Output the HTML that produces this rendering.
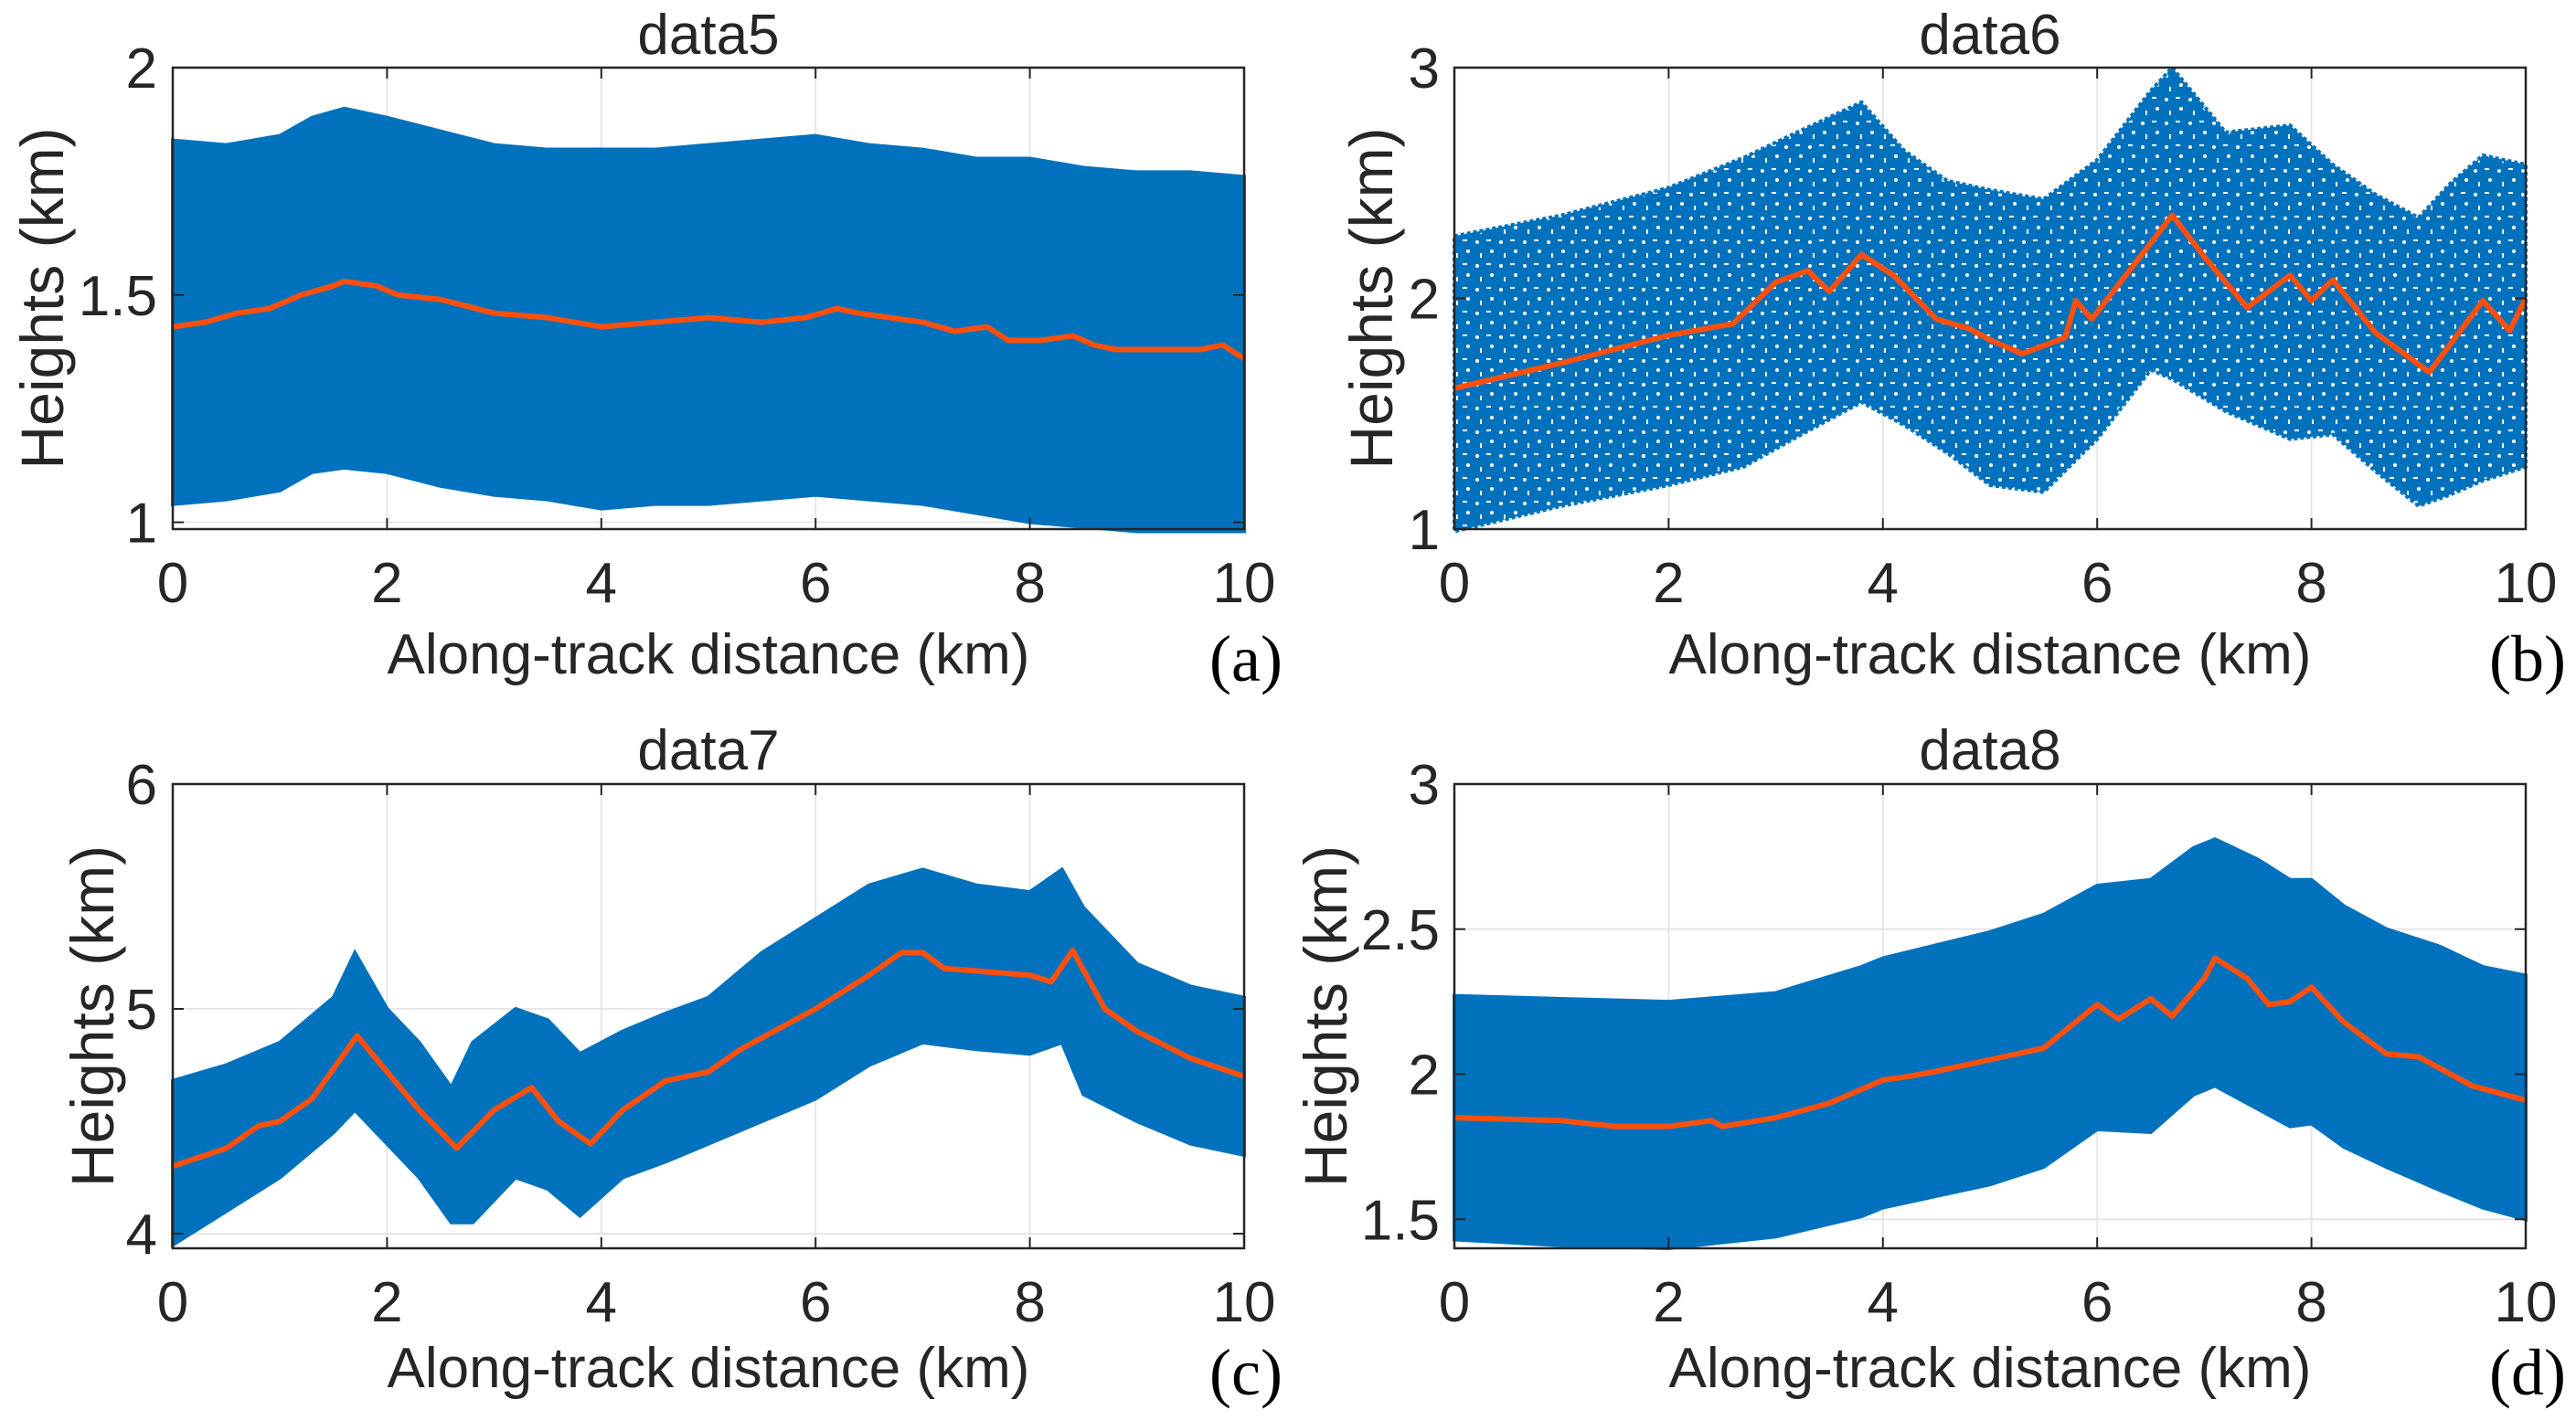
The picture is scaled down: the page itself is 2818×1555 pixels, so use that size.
<!DOCTYPE html>
<html><head><meta charset="utf-8">
<style>
html,body{margin:0;padding:0;background:#fff;}
svg{display:block;}
text{font-family:"Liberation Sans",sans-serif;fill:#262626;}
.serif{font-family:"Liberation Serif",serif;fill:#000;}
</style></head>
<body>
<svg id="fig" width="2818" height="1555" viewBox="0 0 2818 1555" xmlns="http://www.w3.org/2000/svg">
<defs>
<pattern id="speckle" width="26" height="26" patternUnits="userSpaceOnUse">
<rect width="26" height="26" fill="#0072BD"/>
<circle cx="4" cy="5" r="2" fill="#fff"/>
<rect x="14" y="2" width="5" height="2" fill="#fff"/>
<circle cx="20" cy="15" r="2" fill="#fff"/>
<rect x="7" y="17" width="2" height="5" fill="#fff"/>
</pattern>
</defs>
</svg>
<script>
// ---- Panel (a) data5 ----
const aEnvX   = [0,0.5,1,1.3,1.6,2,2.5,3,3.5,4,4.5,5,5.5,6,6.5,7,7.5,8,8.5,9,9.5,10];
const aUpper  = [1.84,1.83,1.85,1.89,1.91,1.89,1.86,1.83,1.82,1.82,1.82,1.83,1.84,1.85,1.83,1.82,1.80,1.80,1.78,1.77,1.77,1.76];
const aLower  = [1.04,1.05,1.07,1.11,1.12,1.11,1.08,1.06,1.05,1.03,1.04,1.04,1.05,1.06,1.05,1.04,1.02,1.00,0.99,0.98,0.98,0.98];
const aLineX  = [0,0.3,0.6,0.9,1.2,1.5,1.6,1.9,2.1,2.5,3,3.5,4,4.5,5,5.5,5.9,6.2,6.4,7,7.3,7.6,7.8,8.1,8.4,8.6,8.8,9.2,9.6,9.8,10];
const aLine   = [1.43,1.44,1.46,1.47,1.50,1.52,1.53,1.52,1.50,1.49,1.46,1.45,1.43,1.44,1.45,1.44,1.45,1.47,1.46,1.44,1.42,1.43,1.40,1.40,1.41,1.39,1.38,1.38,1.38,1.39,1.36];
// ---- Panel (b) data6 ----
const bEnvX   = [0,1,2,2.7,3.2,3.8,4.2,4.6,5,5.5,6,6.5,6.7,7.2,7.8,8.2,8.6,9,9.3,9.6,10];
const bUpper  = [2.27,2.36,2.48,2.61,2.72,2.85,2.64,2.51,2.47,2.43,2.60,2.90,3.00,2.72,2.75,2.58,2.45,2.35,2.50,2.62,2.58];
const bLower  = [0.99,1.10,1.19,1.27,1.40,1.55,1.45,1.33,1.19,1.16,1.39,1.69,1.65,1.51,1.39,1.41,1.25,1.10,1.15,1.21,1.27];
const bLineX  = [0,1,2,2.6,3,3.3,3.5,3.8,4.1,4.5,4.8,5,5.3,5.7,5.8,5.95,6.7,7,7.4,7.8,8,8.2,8.6,9.1,9.6,9.85,10];
const bLine   = [1.61,1.72,1.84,1.89,2.07,2.12,2.03,2.19,2.10,1.91,1.87,1.82,1.76,1.83,1.99,1.91,2.36,2.18,1.96,2.10,1.99,2.08,1.85,1.68,1.99,1.86,2.00];
// ---- Panel (c) data7 ----
const cEnvX   = [0,0.5,1,1.5,1.7,2,2.3,2.6,2.8,3.2,3.5,3.8,4.2,4.6,5,5.5,6,6.5,7,7.5,8,8.3,8.5,9,9.5,10];
const cUpper  = [4.68,4.75,4.85,5.05,5.25,5.00,4.85,4.65,4.85,5.00,4.95,4.80,4.90,4.98,5.05,5.25,5.40,5.55,5.62,5.55,5.52,5.62,5.45,5.20,5.10,5.05];
const cLower  = [3.95,4.10,4.25,4.45,4.55,4.40,4.25,4.05,4.05,4.25,4.20,4.08,4.25,4.32,4.40,4.50,4.60,4.75,4.85,4.82,4.80,4.85,4.62,4.50,4.40,4.35];
const cLineX  = [0,0.5,0.8,1,1.3,1.72,2,2.3,2.65,3,3.35,3.6,3.9,4.2,4.6,5,5.3,6,6.5,6.8,7,7.2,8,8.2,8.4,8.7,9,9.5,10];
const cLine   = [4.30,4.38,4.48,4.50,4.60,4.88,4.72,4.55,4.38,4.55,4.65,4.50,4.40,4.55,4.68,4.72,4.82,5.00,5.15,5.25,5.25,5.18,5.15,5.12,5.26,5.00,4.90,4.78,4.70];
// ---- Panel (d) data8 ----
const dEnvX   = [0,1,2,3,3.8,4,5,5.5,6,6.5,6.9,7.1,7.5,7.8,8,8.3,8.7,9.2,9.6,10];
const dUpper  = [2.27,2.26,2.25,2.28,2.37,2.40,2.49,2.55,2.65,2.67,2.78,2.81,2.74,2.67,2.67,2.58,2.50,2.44,2.37,2.34];
const dLower  = [1.43,1.41,1.40,1.44,1.51,1.54,1.62,1.68,1.81,1.80,1.93,1.96,1.88,1.82,1.83,1.75,1.68,1.60,1.54,1.50];
const dLineX  = [0,1,1.5,2,2.4,2.5,3,3.5,4,4.2,4.5,5,5.5,6,6.2,6.5,6.7,7,7.1,7.4,7.6,7.8,8,8.3,8.7,9,9.5,10];
const dLine   = [1.85,1.84,1.82,1.82,1.84,1.82,1.85,1.90,1.98,1.99,2.01,2.05,2.09,2.24,2.19,2.26,2.20,2.33,2.40,2.33,2.24,2.25,2.30,2.18,2.07,2.06,1.96,1.91];
// ---- ticks ----
const xTicks  = [0,2,4,6,8,10];
const aYTicks = [1,1.5,2];
const bYTicks = [1,2,3];
const cYTicks = [4,5,6];
const dYTicks = [1.5,2,2.5,3];

const NS='http://www.w3.org/2000/svg';
const svg=document.getElementById('fig');
function mk(tag,attrs,parent){const e=document.createElementNS(NS,tag);for(const k in attrs)e.setAttribute(k,attrs[k]);(parent||svg).appendChild(e);return e;}

function panel(cfg){
  const g=mk('g',{});
  
  
  const L=cfg.left,R=cfg.left+1172,T=cfg.top,B=cfg.top+cfg.h;
  const sx=v=>L+(v-0)/(10-0)*(R-L);
  const sy=v=>B-(v-cfg.ymin)/(cfg.ymax-cfg.ymin)*(B-T);
  cfg.xt.forEach(t=>{const l=mk('line',{x1:sx(t),x2:sx(t),y1:T,y2:B,stroke:'#e6e6e6','stroke-width':2},g);
    
    });
  cfg.yt.forEach(t=>{const l=mk('line',{x1:L,x2:R,y1:sy(t),y2:sy(t),stroke:'#e6e6e6','stroke-width':2},g);
    
    });
  let pts=[];
  cfg.ex.forEach((x,i)=>pts.push(sx(x)+','+sy(cfg.up[i])));
  for(let i=cfg.ex.length-1;i>=0;i--)pts.push(sx(cfg.ex[i])+','+sy(cfg.lo[i]));
  const poly=mk('polygon',{points:pts.join(' '),fill:cfg.fill,stroke:'#0072BD','stroke-width':4,'stroke-dasharray':cfg.dash||'none'},g);
  
  
  const lp=cfg.lx.map((x,i)=>sx(x)+','+sy(cfg.ly[i])).join(' ');
  const pl=mk('polyline',{points:lp,fill:'none',stroke:'#FC4F0C','stroke-width':6,'stroke-linejoin':'round'},g);
  
  
  const box=mk('rect',{x:L,y:T,width:R-L,height:B-T,fill:'none',stroke:'#262626','stroke-width':2.5},g);
  
  
  cfg.xt.forEach(t=>{
    mk('line',{x1:sx(t),x2:sx(t),y1:T,y2:T+12,stroke:'#262626','stroke-width':2},g);
    mk('line',{x1:sx(t),x2:sx(t),y1:B,y2:B-12,stroke:'#262626','stroke-width':2},g);
    const tx=mk('text',{x:sx(t),y:B+80,'font-size':62,'text-anchor':'middle'},g);tx.textContent=t;
    
    
  });
  cfg.yt.forEach(t=>{
    mk('line',{x1:L,x2:L+12,y1:sy(t),y2:sy(t),stroke:'#262626','stroke-width':2},g);
    mk('line',{x1:R,x2:R-12,y1:sy(t),y2:sy(t),stroke:'#262626','stroke-width':2},g);
    const ty=mk('text',{x:cfg.tickR,y:sy(t)+22,'font-size':62,'text-anchor':'end'},g);ty.textContent=t;
    
    
  });
  const ti=mk('text',{x:(L+R)/2,y:cfg.titleY,'font-size':62,'text-anchor':'middle'},g);ti.textContent=cfg.title;
  
  
  const xl=mk('text',{x:(L+R)/2,y:cfg.xlabY,'font-size':62,'text-anchor':'middle'},g);xl.textContent='Along-track distance (km)';
  
  
  const yl=mk('text',{x:0,y:0,'font-size':66,'text-anchor':'middle',transform:'translate('+(cfg.ylabX+24)+','+((T+B)/2)+') rotate(-90)'},g);yl.textContent='Heights (km)';
  
  
  const pl2=mk('text',{x:R+2,y:cfg.xlabY+8,'font-size':72,'text-anchor':'middle',class:'serif'},g);pl2.textContent=cfg.letter;
  
  
}

panel({id:'a',left:189,top:74,h:505,ymin:0.985,ymax:2,xt:xTicks,yt:aYTicks,ex:aEnvX,up:aUpper,lo:aLower,lx:aLineX,ly:aLine,fill:'#0072BD',tickR:172,ylabX:45,title:'data5',titleY:59,xlabY:737,letter:'(a)'});
panel({id:'b',left:1591,top:74,h:505,ymin:1,ymax:3,xt:xTicks,yt:bYTicks,ex:bEnvX,up:bUpper,lo:bLower,lx:bLineX,ly:bLine,fill:'url(#speckle)',dash:'4 3',tickR:1575,ylabX:1499,title:'data6',titleY:59,xlabY:737,letter:'(b)'});
panel({id:'c',left:189,top:858,h:508,ymin:3.935,ymax:6,xt:xTicks,yt:cYTicks,ex:cEnvX,up:cUpper,lo:cLower,lx:cLineX,ly:cLine,fill:'#0072BD',tickR:172,ylabX:100,title:'data7',titleY:842,xlabY:1518,letter:'(c)'});
panel({id:'d',left:1591,top:858,h:508,ymin:1.4,ymax:3,xt:xTicks,yt:dYTicks,ex:dEnvX,up:dUpper,lo:dLower,lx:dLineX,ly:dLine,fill:'#0072BD',tickR:1575,ylabX:1449,title:'data8',titleY:842,xlabY:1518,letter:'(d)'});
</script>
</body></html>
